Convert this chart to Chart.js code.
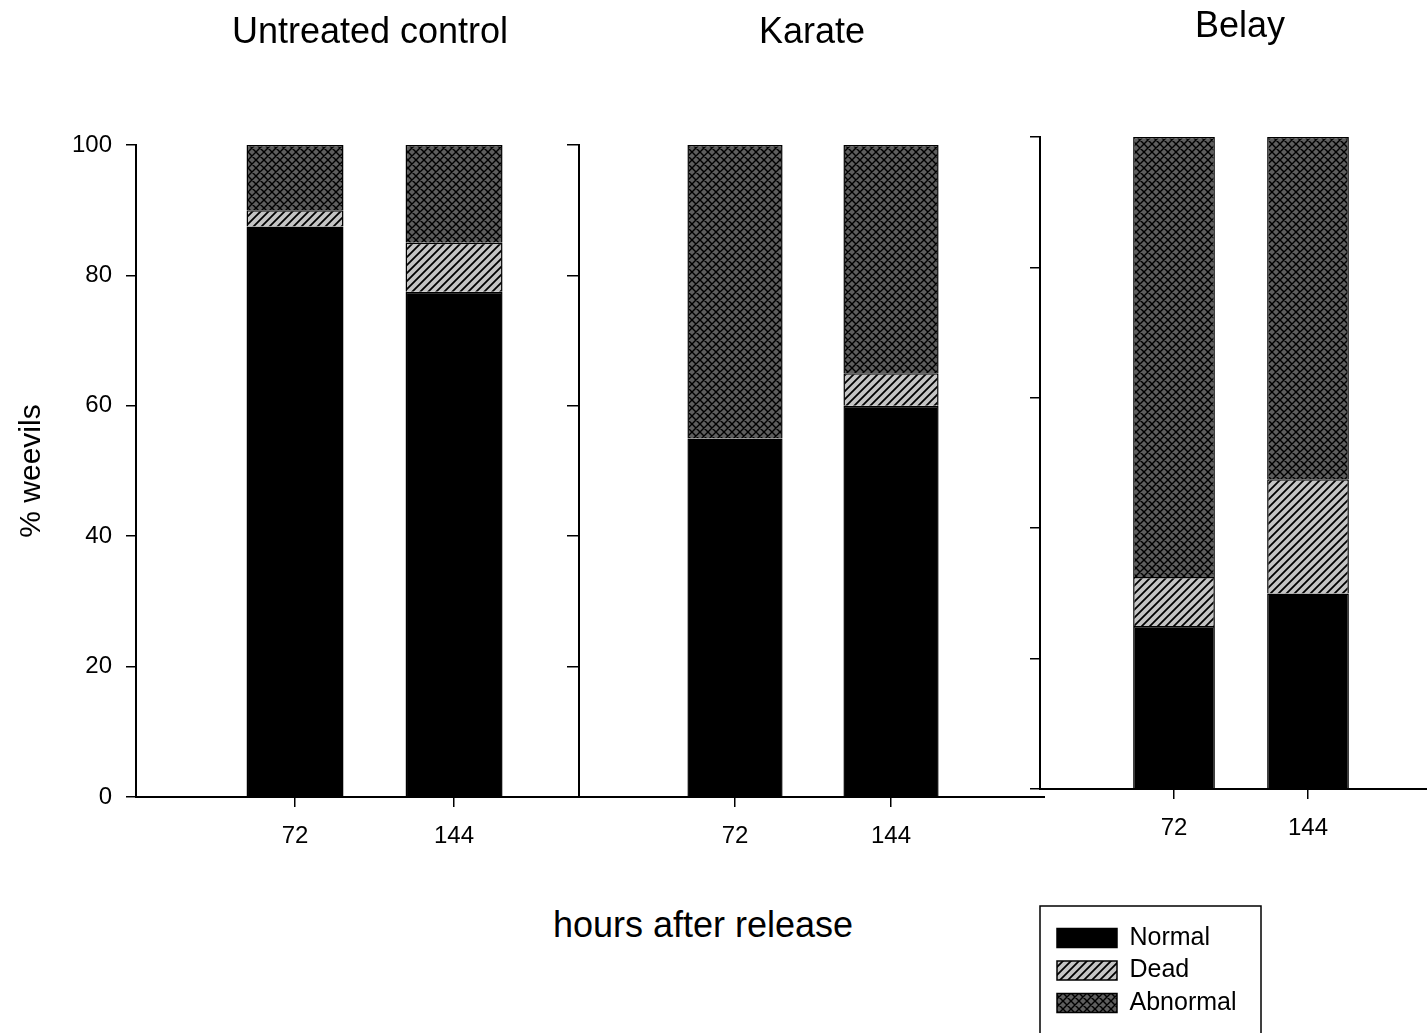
<!DOCTYPE html>
<html>
<head>
<meta charset="utf-8">
<script src="https://cdn.jsdelivr.net/npm/chart.js@4.4.0/dist/chart.umd.min.js"></script>
<style>
  html, body { margin: 0; padding: 0; overflow: hidden; background: #fff; }
  body { width: 1427px; height: 1033px; position: relative; font-family: "Liberation Sans", Arial, sans-serif; }
  canvas { position: absolute; }
  #xTitle { position: absolute; left: 453px; width: 500px; top: 903px; text-align: center; font-size: 36px; line-height: 44px; color: #000; }
</style>
</head>
<body>
<canvas id="c1" width="604" height="860" style="left:0;top:0"></canvas>
<canvas id="c2" width="505" height="860" style="left:540px;top:0"></canvas>
<canvas id="c3" width="440" height="852" style="left:1000px;top:0"></canvas>
<canvas id="legend" width="223" height="140" style="left:1039px;top:905px"></canvas>
<div id="xTitle">hours after release</div>
<script>
// hours after release (x categories)
const hours = ['72', '144'];
const seriesNames = ['Normal', 'Dead', 'Abnormal'];
const yTicks = [0, 20, 40, 60, 80, 100];

// % weevils per treatment
const controlNormal = [87.5, 77.5];
const controlDead = [2.5, 7.5];
const controlAbnormal = [10, 15];

const karateNormal = [55, 60];
const karateDead = [0, 5];
const karateAbnormal = [45, 35];

const belayNormal = [25, 30];
const belayDead = [7.5, 17.5];
const belayAbnormal = [67.5, 52.5];

Chart.defaults.font.family = '"Liberation Sans", Arial, sans-serif';
Chart.defaults.color = '#000';

// hatch fills
function hatch(bg, cross) {
  const s = 8;
  const c = document.createElement('canvas');
  c.width = s; c.height = s;
  const g = c.getContext('2d');
  g.fillStyle = bg;
  g.fillRect(0, 0, s, s);
  g.strokeStyle = '#000';
  g.lineWidth = cross ? 1.4 : 1.8;
  g.beginPath();
  g.moveTo(-1, s + 1); g.lineTo(s + 1, -1);
  g.moveTo(-1, 1); g.lineTo(1, -1);
  g.moveTo(s - 1, s + 1); g.lineTo(s + 1, s - 1);
  if (cross) {
    g.moveTo(-1, -1); g.lineTo(s + 1, s + 1);
    g.moveTo(s - 1, -1); g.lineTo(s + 1, 1);
    g.moveTo(-1, s - 1); g.lineTo(1, s + 1);
  }
  g.stroke();
  return g.createPattern(c, 'repeat');
}
const normalFill = '#000';
const deadFill = hatch('#c4c4c4', false);
const abnormalFill = hatch('#5e5e5e', true);

function toPoints(values) {
  return values.map((v, i) => ({ x: i + 1, y: v }));
}

function makePanel(id, title, normal, dead, abnormal, opt) {
  return new Chart(document.getElementById(id), {
    type: 'bar',
    data: {
      datasets: [
        { label: seriesNames[0], data: toPoints(normal), backgroundColor: normalFill },
        { label: seriesNames[1], data: toPoints(dead), backgroundColor: deadFill },
        { label: seriesNames[2], data: toPoints(abnormal), backgroundColor: abnormalFill }
      ]
    },
    options: {
      responsive: false,
      animation: false,
      events: [],
      layout: { padding: 0 },
      datasets: {
        bar: { borderColor: '#000', borderWidth: 1.5, barPercentage: 0.61, categoryPercentage: 1 }
      },
      plugins: {
        legend: { display: false },
        tooltip: { enabled: false },
        title: {
          display: true,
          text: title,
          fullSize: false,
          font: { size: 36, weight: 'normal' },
          padding: { top: opt.titleTop, bottom: opt.titleBottom }
        }
      },
      scales: {
        x: {
          type: 'linear',
          stacked: true,
          offset: false,
          min: 0,
          max: opt.xMax,
          afterBuildTicks: s => { s.ticks = hours.map((h, i) => ({ value: i + 1 })); },
          afterFit: s => { s.height = 63; },
          ticks: {
            callback: v => hours[v - 1],
            font: { size: 24 },
            padding: 15,
            maxRotation: 0,
            autoSkip: false
          },
          grid: { offset: false, drawOnChartArea: false, drawTicks: true, tickLength: 10, color: '#000', lineWidth: 1.5 },
          border: { display: true, color: '#000', width: 2 }
        },
        y: {
          stacked: true,
          min: 0,
          max: 100,
          afterBuildTicks: s => { s.ticks = yTicks.map(v => ({ value: v })); },
          afterFit: s => { s.width = opt.yWidth; },
          ticks: { display: opt.yLabels, font: { size: 24 }, padding: 14 },
          grid: { drawOnChartArea: false, drawTicks: true, tickLength: opt.tickLen, color: '#000', lineWidth: 1.5 },
          border: { display: true, color: '#000', width: 2 },
          title: {
            display: opt.yLabels,
            text: '% weevils',
            font: { size: 30 },
            padding: { top: 14, bottom: 0 }
          }
        }
      }
    }
  });
}

makePanel('c1', 'Untreated control', controlNormal, controlDead, controlAbnormal,
  { xMax: 2.943, yWidth: 136, yLabels: true, tickLen: 10, titleTop: 11.4, titleBottom: 90.4 });
makePanel('c2', 'Karate', karateNormal, karateDead, karateAbnormal,
  { xMax: 2.987, yWidth: 39, yLabels: false, tickLen: 12, titleTop: 11.4, titleBottom: 90.4 });
makePanel('c3', 'Belay', belayNormal, belayDead, belayAbnormal,
  { xMax: 2.985, yWidth: 40, yLabels: false, tickLen: 10, titleTop: 5.4, titleBottom: 88.4 });

// legend box
const legendFrame = {
  id: 'legendFrame',
  afterDraw(chart) {
    const ctx = chart.ctx;
    ctx.save();
    ctx.strokeStyle = '#000';
    ctx.lineWidth = 1.5;
    ctx.strokeRect(1, 1, chart.width - 2, chart.height + 20);
    ctx.restore();
  }
};

new Chart(document.getElementById('legend'), {
  type: 'bar',
  data: {
    datasets: [
      { label: seriesNames[0], data: [], backgroundColor: normalFill, borderColor: '#000', borderWidth: 1.5 },
      { label: seriesNames[1], data: [], backgroundColor: deadFill, borderColor: '#000', borderWidth: 1.5 },
      { label: seriesNames[2], data: [], backgroundColor: abnormalFill, borderColor: '#000', borderWidth: 1.5 }
    ]
  },
  options: {
    responsive: false,
    animation: false,
    events: [],
    layout: { padding: { left: 10.5, top: 13, right: 0, bottom: 0 } },
    scales: { x: { display: false }, y: { display: false } },
    plugins: {
      tooltip: { enabled: false },
      legend: {
        position: 'left',
        align: 'start',
        maxWidth: 300,
        labels: { boxWidth: 60, boxHeight: 19, padding: 7.5, font: { size: 25 } }
      }
    }
  },
  plugins: [legendFrame]
});
</script>
</body>
</html>
